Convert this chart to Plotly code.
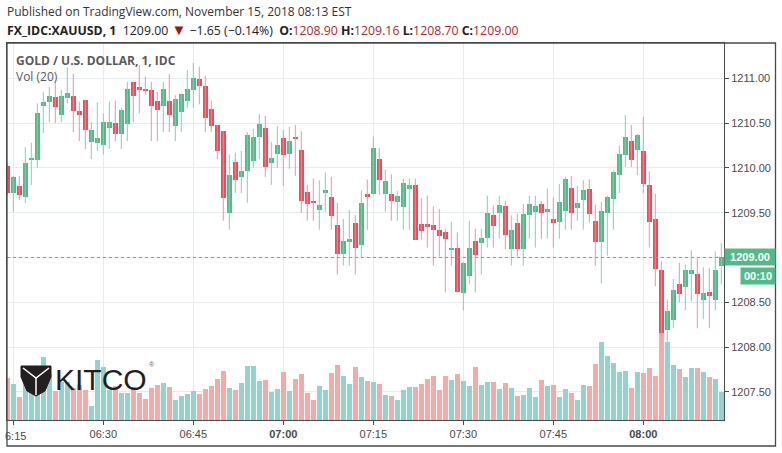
import pandas as pd
import plotly.graph_objects as go

# XAUUSD 1-minute bars, 06:14 -> 08:13 EST (15 Nov 2018)
times = pd.date_range("2018-11-15 06:14", periods=120, freq="min")

opens = [
    1210.02, 1209.72, 1209.80, 1209.67, 1210.09, 1210.09, 1210.69, 1210.73, 1210.79, 1210.59,
    1210.78, 1210.80, 1210.64, 1210.76, 1210.29, 1210.28, 1210.26, 1210.45, 1210.50, 1210.38,
    1210.49, 1210.96, 1210.90, 1210.87, 1210.87, 1210.75, 1210.69, 1210.75, 1210.47, 1210.62,
    1210.75, 1210.87, 1210.99, 1210.91, 1210.66, 1210.48, 1210.41, 1209.50, 1210.07, 1209.90,
    1209.97, 1210.08, 1210.35, 1210.45, 1210.05, 1210.16, 1210.33, 1210.16, 1210.35, 1210.20,
    1209.73, 1209.62, 1209.53, 1209.72, 1209.68, 1209.36, 1209.04, 1209.17, 1209.39, 1209.14,
    1209.70, 1209.71, 1210.10, 1209.71, 1209.71, 1209.62, 1209.56, 1209.76, 1209.81, 1209.37,
    1209.37, 1209.36, 1209.31, 1209.28, 1209.08, 1209.11, 1208.60, 1208.79, 1209.18, 1209.16,
    1209.22, 1209.47, 1209.50, 1209.57, 1209.10, 1209.38, 1209.10, 1209.47, 1209.51, 1209.60,
    1209.51, 1209.43, 1209.40, 1209.52, 1209.78, 1209.55, 1209.64, 1209.77, 1209.41, 1209.17,
    1209.50, 1209.65, 1209.92, 1210.14, 1210.30, 1210.20, 1210.19, 1209.81, 1209.43, 1208.86,
    1208.19, 1208.30, 1208.70, 1208.67, 1208.82, 1208.82, 1208.53, 1208.62, 1208.52, 1208.90,
]
highs = [
    1210.05, 1209.91, 1209.91, 1210.23, 1210.28, 1210.72, 1210.85, 1210.90, 1210.95, 1210.87,
    1211.12, 1211.05, 1210.74, 1210.76, 1210.51, 1210.73, 1210.61, 1210.74, 1210.75, 1210.67,
    1210.96, 1210.96, 1211.15, 1211.02, 1210.96, 1210.85, 1210.96, 1211.05, 1210.81, 1210.83,
    1211.09, 1211.17, 1211.13, 1211.03, 1210.75, 1210.48, 1210.41, 1210.15, 1210.17, 1210.19,
    1210.40, 1210.44, 1210.60, 1210.58, 1210.29, 1210.47, 1210.42, 1210.46, 1210.48, 1210.41,
    1209.81, 1209.88, 1209.86, 1209.95, 1209.90, 1209.61, 1209.43, 1209.53, 1209.47, 1209.75,
    1209.87, 1210.35, 1210.22, 1209.98, 1209.93, 1209.74, 1209.88, 1209.88, 1209.88, 1209.66,
    1209.69, 1209.57, 1209.54, 1209.32, 1209.40, 1209.28, 1208.95, 1209.41, 1209.32, 1209.32,
    1209.69, 1209.58, 1209.69, 1209.63, 1209.47, 1209.49, 1209.60, 1209.69, 1209.69, 1209.63,
    1209.77, 1209.67, 1209.82, 1209.90, 1209.91, 1209.80, 1209.86, 1209.87, 1209.59, 1209.62,
    1209.69, 1209.97, 1210.25, 1210.59, 1210.48, 1210.38, 1210.57, 1209.96, 1209.71, 1208.96,
    1208.53, 1208.76, 1208.94, 1208.92, 1209.08, 1208.99, 1208.89, 1208.88, 1209.07, 1209.16,
]
lows = [
    1209.70, 1209.51, 1209.64, 1209.61, 1209.81, 1210.00, 1210.39, 1210.51, 1210.50, 1210.51,
    1210.72, 1210.40, 1210.30, 1210.21, 1210.10, 1210.19, 1210.15, 1210.21, 1210.30, 1210.21,
    1210.30, 1210.51, 1210.61, 1210.82, 1210.30, 1210.30, 1210.40, 1210.40, 1210.30, 1210.40,
    1210.67, 1210.67, 1210.71, 1210.40, 1210.40, 1210.10, 1209.41, 1209.31, 1209.72, 1209.72,
    1209.61, 1210.00, 1210.10, 1209.90, 1209.81, 1210.00, 1209.80, 1209.99, 1209.91, 1209.50,
    1209.41, 1209.41, 1209.31, 1209.51, 1209.31, 1208.81, 1208.91, 1208.91, 1208.81, 1208.99,
    1209.31, 1209.70, 1209.70, 1209.51, 1209.41, 1209.41, 1209.31, 1209.31, 1209.20, 1209.20,
    1209.11, 1208.91, 1209.01, 1208.61, 1208.91, 1208.61, 1208.41, 1208.70, 1208.61, 1208.81,
    1209.11, 1209.11, 1209.21, 1209.09, 1208.91, 1209.01, 1208.91, 1209.21, 1209.11, 1209.21,
    1209.21, 1209.11, 1209.21, 1209.31, 1209.31, 1209.41, 1209.31, 1209.39, 1208.91, 1208.71,
    1209.02, 1209.31, 1209.72, 1210.01, 1210.01, 1209.92, 1209.72, 1209.11, 1208.68, 1208.12,
    1208.05, 1208.21, 1208.50, 1208.41, 1208.51, 1208.21, 1208.31, 1208.21, 1208.41, 1208.70,
]
closes = [
    1209.72, 1209.90, 1209.70, 1210.05, 1210.10, 1210.61, 1210.74, 1210.80, 1210.68, 1210.80,
    1210.84, 1210.63, 1210.59, 1210.42, 1210.42, 1210.33, 1210.51, 1210.51, 1210.38, 1210.65,
    1210.88, 1210.80, 1210.87, 1210.86, 1210.69, 1210.65, 1210.88, 1210.59, 1210.77, 1210.82,
    1210.88, 1211.00, 1210.91, 1210.56, 1210.47, 1210.19, 1209.66, 1209.92, 1209.86, 1209.97,
    1210.37, 1210.35, 1210.49, 1210.01, 1210.11, 1210.26, 1210.14, 1210.30, 1210.32, 1209.63,
    1209.60, 1209.61, 1209.59, 1209.75, 1209.46, 1209.04, 1209.18, 1209.21, 1209.11, 1209.61,
    1209.68, 1210.22, 1209.86, 1209.85, 1209.63, 1209.69, 1209.83, 1209.81, 1209.20, 1209.30,
    1209.34, 1209.31, 1209.24, 1209.21, 1209.11, 1208.61, 1208.94, 1209.11, 1209.03, 1209.22,
    1209.50, 1209.35, 1209.59, 1209.25, 1209.31, 1209.10, 1209.48, 1209.60, 1209.57, 1209.50,
    1209.54, 1209.38, 1209.62, 1209.88, 1209.50, 1209.61, 1209.75, 1209.48, 1209.17, 1209.52,
    1209.67, 1209.95, 1210.15, 1210.35, 1210.09, 1210.37, 1209.82, 1209.40, 1208.87, 1208.16,
    1208.40, 1208.64, 1208.59, 1208.86, 1208.86, 1208.59, 1208.60, 1208.57, 1208.86, 1209.00,
]
volumes = [
    42, 36, 23, 40, 44, 48, 63, 46, 29, 38, 38, 32, 35, 30, 14, 60, 53, 30, 34, 27,
    27, 33, 27, 21, 32, 35, 37, 33, 20, 24, 26, 29, 26, 31, 34, 41, 49, 32, 30, 37,
    54, 54, 39, 40, 28, 31, 48, 29, 41, 46, 27, 20, 34, 30, 47, 55, 44, 36, 53, 43,
    39, 38, 36, 25, 24, 20, 30, 33, 33, 36, 41, 44, 30, 44, 40, 46, 39, 34, 53, 35,
    38, 38, 31, 37, 32, 24, 25, 32, 23, 40, 34, 35, 23, 31, 27, 20, 35, 34, 56, 78,
    64, 57, 48, 49, 32, 48, 47, 52, 44, 87, 78, 55, 51, 43, 52, 52, 48, 43, 41, 28,
]

time_ticks = ["06:15", "06:30", "06:45", "07:00", "07:15", "07:30", "07:45", "08:00"]
price_ticks = [1207.5, 1208.0, 1208.5, 1209.0, 1209.5, 1210.0, 1210.5, 1211.0]
last_price = 1209.00
countdown = "00:10"

UP, DOWN = "#53b987", "#eb4d5c"
UP_WICK, DOWN_WICK = "#86cfac", "#f3919b"
VOL_UP, VOL_DOWN = "#92d4cc", "#f7a8a8"
GRID = "#e4ebf1"
FRAME = "#4a4a4a"

# pixel helpers (782x453 canvas, plot area 7..724 x 43..420)
ML, MR, MT, MB = 7, 58, 43, 33
PW, PH = 782 - ML - MR, 453 - MT - MB


def px(x):
    return (x - ML) / PW


def py(y):
    return (453 - MB - y) / PH


is_up = [c >= o for o, c in zip(opens, closes)]


def wick_trace(up):
    xs, ys = [], []
    for t, h, l, u in zip(times, highs, lows, is_up):
        if u == up:
            xs += [t, t, None]
            ys += [l, h, None]
    return go.Scatter(x=xs, y=ys, mode="lines", yaxis="y2", hoverinfo="skip",
                      line=dict(color=UP_WICK if up else DOWN_WICK, width=1), showlegend=False)


body_size = []
for o, c in zip(opens, closes):
    d = c - o
    if abs(d) < 0.012:
        d = 0.012 if d >= 0 else -0.012
    body_size.append(d)

bar_w = 50000  # ms, leaves ~1px gap between 1-minute bars

vol_trace = go.Bar(x=times, y=volumes, width=bar_w, yaxis="y",
                   marker=dict(color=[VOL_UP if u else VOL_DOWN for u in is_up], line=dict(width=0)),
                   showlegend=False, hoverinfo="skip")
body_trace = go.Bar(x=times, y=body_size, base=opens, width=bar_w, yaxis="y2",
                    marker=dict(color=[UP if u else DOWN for u in is_up], line=dict(width=0)),
                    showlegend=False, hoverinfo="skip")

fig = go.Figure(data=[vol_trace, wick_trace(True), wick_trace(False), body_trace])

tick_dates = pd.to_datetime(["2018-11-15 " + t for t in time_ticks])
# first label hangs off the left edge; it is drawn as an annotation instead (no margin push)
tick_text = [""] + ["<b>%s</b>" % t if t.endswith(":00") else t for t in time_ticks[1:]]
price_text = ["" if p == last_price else "%.2f" % p for p in price_ticks]

x_lo = times[0] - pd.Timedelta(seconds=3)
x_hi = times[-1] + pd.Timedelta(seconds=27)

NB = "\u00a0"
RED = "#b0282e"
header2 = (
    "<b>FX_IDC:XAUUSD, 1</b>" + NB * 2 + "1209.00" + NB
    + "<span style='color:#a31515;font-size:15px'>▼</span>" + NB + "−1.65 (−0.14%)" + NB * 2
    + "<b>O:</b><span style='color:%s'>1208.90</span>" % RED + NB
    + "<b>H:</b><span style='color:%s'>1209.16</span>" % RED + NB
    + "<b>L:</b><span style='color:%s'>1208.70</span>" % RED + NB
    + "<b>C:</b><span style='color:%s'>1209.00</span>" % RED
)


def path_from(points, close=True):
    s = "M " + " L ".join("%.5f,%.5f" % (px(a), py(b)) for a, b in points)
    return s + (" Z" if close else "")


fig.update_layout(
    width=782, height=453,
    margin=dict(l=ML, r=MR, t=MT, b=MB, autoexpand=False),
    paper_bgcolor="white", plot_bgcolor="white",
    barmode="overlay", bargap=0, showlegend=False,
    font=dict(family="Liberation Sans, Arial, sans-serif", color="#4a4a4a", size=11),
    xaxis=dict(
        type="date", range=[x_lo, x_hi],
        tickvals=tick_dates, ticktext=tick_text,
        showgrid=True, gridcolor=GRID, gridwidth=1, zeroline=False,
        showline=True, linecolor=FRAME, linewidth=1, mirror=True,
        ticks="outside", ticklen=4, tickcolor=FRAME,
        tickfont=dict(size=11, color="#4a4a4a"),
    ),
    yaxis=dict(range=[0, max(volumes) * PH / 87], visible=False, fixedrange=True),
    yaxis2=dict(
        overlaying="y", side="right", anchor="x",
        range=[1207.186, 1211.394],
        tickvals=price_ticks, ticktext=price_text,
        showgrid=True, gridcolor=GRID, gridwidth=1, zeroline=False,
        showline=True, linecolor=FRAME, linewidth=1, mirror=True,
        ticks="outside", ticklen=4, tickcolor=FRAME,
        tickfont=dict(size=11, color="#4a4a4a"),
    ),
    shapes=[
        # last price dotted line
        dict(type="line", xref="paper", yref="y2", x0=0, x1=1, y0=last_price, y1=last_price,
             line=dict(color=UP, width=1, dash="dot")),
        # outer frame around chart + scales
        dict(type="rect", xref="paper", yref="paper", x0=px(7), x1=px(775.5), y0=py(446), y1=py(43),
             line=dict(color=FRAME, width=1.3), layer="above"),
        # KITCO cube mark
        dict(type="path", xref="paper", yref="paper", layer="above",
             path=path_from([(21, 366), (51, 366), (51, 377), (45, 391), (36, 396), (27, 391), (21, 377)]),
             fillcolor="#231f20", line=dict(color="#231f20", width=1)),
        dict(type="path", xref="paper", yref="paper", layer="above",
             path=path_from([(23, 368), (36, 378), (49, 368)], close=False),
             line=dict(color="white", width=1.5)),
        dict(type="path", xref="paper", yref="paper", layer="above",
             path=path_from([(36, 378), (36, 395)], close=False),
             line=dict(color="white", width=1.5)),
    ],
    annotations=[
        dict(xref="paper", yref="paper", x=px(5), y=py(11), xanchor="left", yanchor="middle",
             text="Published on TradingView.com, November 15, 2018 08:13 EST", showarrow=False,
             font=dict(family="Open Sans", size=12, color="#333333")),
        dict(xref="paper", yref="paper", x=px(5), y=py(29), xanchor="left", yanchor="middle",
             text=header2, showarrow=False,
             font=dict(family="Open Sans", size=12.3, color="#222222")),
        dict(xref="paper", yref="paper", x=px(14), y=py(61), xanchor="left", yanchor="middle",
             text="<b>GOLD / U.S. DOLLAR, 1, IDC</b>", showarrow=False,
             font=dict(family="Open Sans", size=12, color="#5a5a5a")),
        dict(xref="paper", yref="paper", x=px(14), y=py(77), xanchor="left", yanchor="middle",
             text="Vol (20)", showarrow=False,
             font=dict(family="Open Sans", size=12, color="#5a5a5a")),
        # first time label, cut by the left frame edge as in the screenshot
        dict(xref="paper", yref="paper", x=px(27.5), y=py(436), xanchor="right", yanchor="middle",
             text=time_ticks[0][1:], showarrow=False, font=dict(size=11, color="#4a4a4a")),
        # current price + countdown labels on the price scale
        dict(xref="paper", yref="y2", x=px(749.5), y=last_price, xanchor="center", yanchor="middle",
             text="<b>1209.00</b>", showarrow=False, bgcolor=UP, width=48, height=14, borderpad=1,
             font=dict(size=11, color="white")),
        dict(xref="paper", yref="paper", x=px(757.5), y=py(275.5), xanchor="center", yanchor="middle",
             text="<b>%s</b>" % countdown, showarrow=False, bgcolor=UP, width=32, height=14, borderpad=1,
             font=dict(size=11, color="white")),
        # KITCO wordmark
        dict(xref="paper", yref="paper", x=px(53), y=py(379), xanchor="left", yanchor="middle",
             text="KITCO", showarrow=False,
             font=dict(family="Liberation Sans", size=30, color="#231f20")),
        dict(xref="paper", yref="paper", x=px(147), y=py(364), xanchor="left", yanchor="middle",
             text="®", showarrow=False, font=dict(size=7, color="#666666")),
    ],
)

fig.write_html("out.html", config={"displayModeBar": False},
               post_script="document.body.style.margin='0';")
